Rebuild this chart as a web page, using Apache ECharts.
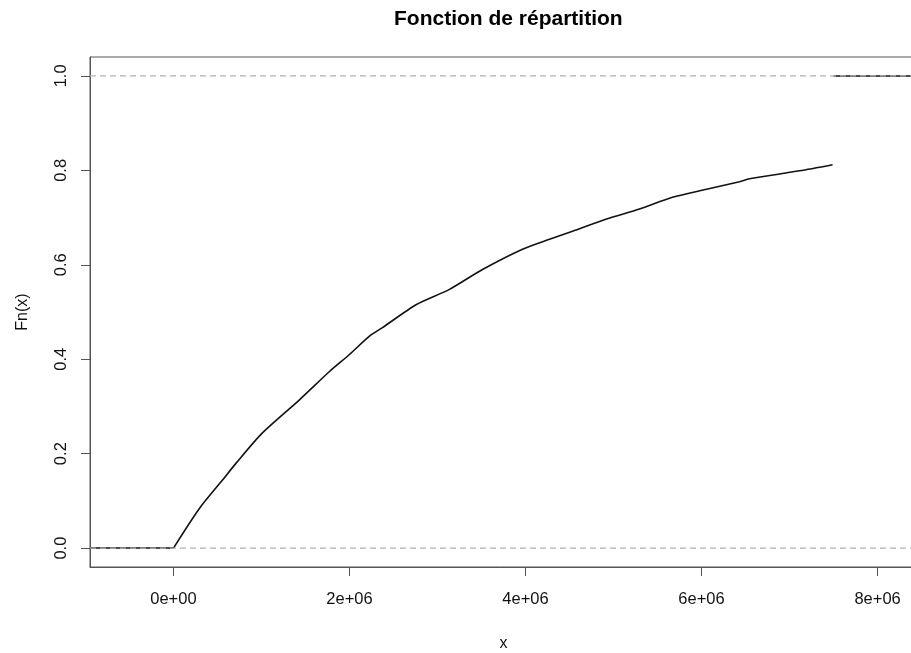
<!DOCTYPE html>
<html>
<head>
<meta charset="utf-8">
<script src="https://cdn.jsdelivr.net/npm/echarts@6/dist/echarts.min.js"></script>
<style>html,body{margin:0;padding:0;background:#fff}#c{width:911px;height:653px}</style>
</head>
<body>
<div id="c"></div>
<script>
// ECDF curve (x in units, Fn(x))
var cdfX = [0, 295000, 557000, 712000, 1011000, 1432000, 1773000, 2000000, 2227000, 2375000, 2761000, 3136000, 3511000, 3966000, 4273000, 4534000, 4920000, 5295000, 5670000, 6057000, 6432000, 6545000, 7114000, 7489000];
var cdfY = [0, 0.084, 0.144, 0.180, 0.244, 0.314, 0.374, 0.410, 0.449, 0.467, 0.516, 0.548, 0.590, 0.633, 0.654, 0.671, 0.697, 0.718, 0.743, 0.760, 0.776, 0.782, 0.799, 0.812];
var lastKnot = 7500000;
var xLim = [-948000, 8448000];
var yLim = [-0.04, 1.04];
var xTicks = [0, 2000000, 4000000, 6000000, 8000000];
var yTicks = [0, 0.2, 0.4, 0.6, 0.8, 1.0];
var refLevels = [0, 1];

var curve = cdfX.map(function (x, i) { return [x, cdfY[i]]; });
var leftStep = [[xLim[0], 0], [cdfX[0], 0]];
var rightStep = [[lastKnot, 1], [xLim[1], 1]];

function sci(v) {
  var s = Number(v).toExponential();
  var m = s.split('e');
  var exp = m[1];
  var sign = exp[0];
  var digits = exp.slice(1);
  if (digits.length < 2) digits = '0' + digits;
  return m[0] + 'e' + sign + digits;
}

var font = '"Liberation Sans", Arial, sans-serif';
var chart = echarts.init(document.getElementById('c'));
var series = [
  { type: 'line', data: curve, symbol: 'none', smooth: 0.25, lineStyle: { color: '#111', width: 1.6 }, z: 2, animation: false },
  { type: 'line', data: leftStep, symbol: 'none', lineStyle: { color: '#111', width: 1.5 }, z: 2, animation: false },
  { type: 'line', data: rightStep, symbol: 'none', lineStyle: { color: '#111', width: 1.5 }, z: 2, animation: false }
];
refLevels.forEach(function (lv) {
  series.push({ type: 'line', data: [[xLim[0], lv], [xLim[1], lv]], symbol: 'none',
    lineStyle: { color: '#b3b3b3', width: 1.2, type: [6, 4] }, z: 5, animation: false, silent: true });
});

chart.setOption({
  animation: false,
  title: {
    text: 'Fonction de répartition', left: 389, top: 4,
    textStyle: { fontFamily: font, fontSize: 21, fontWeight: 'bold', color: '#000' }
  },
  grid: { left: 90, right: -6, top: 57, bottom: 86, show: true, borderColor: '#555', borderWidth: 1, containLabel: false, outerBoundsMode: 'none' },
  xAxis: {
    type: 'value', min: xLim[0], max: xLim[1],
    name: 'x', nameLocation: 'middle', nameGap: 69,
    nameTextStyle: { fontFamily: font, fontSize: 16, color: '#111' },
    axisLine: { show: true, onZero: false, lineStyle: { color: '#555', width: 1 } },
    axisTick: { show: true, length: 9, customValues: xTicks, lineStyle: { color: '#555' } },
    axisLabel: { customValues: xTicks, formatter: sci, margin: 24, fontFamily: font, fontSize: 16.5, color: '#111' },
    splitLine: { show: false }
  },
  yAxis: {
    type: 'value', min: yLim[0], max: yLim[1],
    name: 'Fn(x)', nameLocation: 'middle', nameGap: 59,
    nameTextStyle: { fontFamily: font, fontSize: 16, color: '#111' },
    axisLine: { show: true, onZero: false, lineStyle: { color: '#555', width: 1 } },
    axisTick: { show: true, length: 9, customValues: yTicks, lineStyle: { color: '#555' } },
    axisLabel: { customValues: yTicks, rotate: 90, formatter: function (v) { return v.toFixed(1); }, margin: 20, fontFamily: font, fontSize: 16.5, color: '#111' },
    splitLine: { show: false }
  },
  series: series
});
</script>
</body>
</html>
